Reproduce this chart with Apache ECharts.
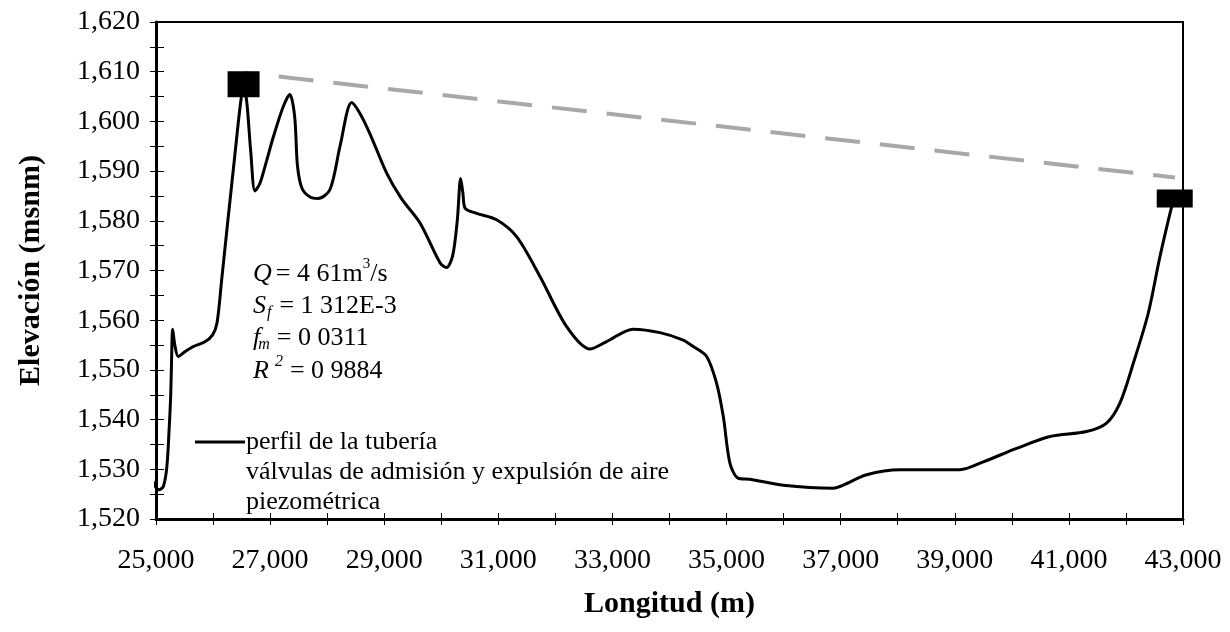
<!DOCTYPE html>
<html>
<head>
<meta charset="utf-8">
<script src="https://cdn.jsdelivr.net/npm/echarts@6/dist/echarts.min.js"></script>
<style>
  html, body { margin: 0; padding: 0; background: #fff; }
  #chart { width: 1230px; height: 632px; }
</style>
</head>
<body>
<div id="chart"></div>
<script>
// Pipeline profile: chainage (m) vs. elevation (m a.s.l.)
const profileX = [24910, 24990, 25060, 25130, 25190, 25230, 25258, 25275, 25292, 25330, 25390, 25500, 25650, 25850, 25990, 26070, 26150, 26250, 26380, 26480, 26535, 26590, 26660, 26735, 26820, 26910, 27060, 27231, 27345, 27430, 27480, 27560, 27700, 27840, 28050, 28225, 28430, 28580, 28750, 29043, 29300, 29630, 29980, 30091, 30200, 30280, 30340, 30380, 30420, 30620, 30970, 31320, 31730, 32197, 32606, 32898, 33364, 33833, 34241, 34417, 34651, 34826, 34943, 35060, 35206, 35410, 35994, 36870, 37045, 37455, 38039, 38915, 39090, 39499, 40083, 40668, 41310, 41661, 41894, 42128, 42391, 42596, 42800, 42855];
const profileY = [1528.7, 1526.5, 1525.9, 1526.6, 1530.5, 1538, 1545, 1553, 1558.2, 1555, 1552.7, 1553.6, 1554.7, 1555.6, 1557, 1559.5, 1568, 1579, 1593, 1603.5, 1607, 1604, 1594, 1586, 1587.5, 1590.9, 1597, 1603, 1605.4, 1601, 1591, 1586.5, 1584.8, 1584.5, 1586.3, 1595, 1603.8, 1601.5, 1597.5, 1589.6, 1584.5, 1579.5, 1571.5, 1570.6, 1573, 1580, 1588.5, 1585.5, 1582.5, 1581.5, 1580.2, 1576.8, 1568.8, 1558.7, 1554.2, 1555.7, 1558.2, 1557.5, 1556, 1554.7, 1552.7, 1547.3, 1540.6, 1531.2, 1528.2, 1528, 1526.8, 1526.2, 1526.8, 1528.9, 1529.9, 1529.9, 1529.9, 1531.5, 1534.2, 1536.6, 1537.6, 1539.3, 1543.3, 1551.3, 1561.4, 1572.8, 1582.8, 1585];

// Air release / admission valves
const valveX = [26535, 42855];
const valveY = [1607.5, 1584.5];

// Hydraulic grade line
const piezoX = [26540, 42860];
const piezoY = [1609.8, 1588.7];

const seriesNames = ['perfil de la tubería', 'válvulas de admisión y expulsión de aire', 'piezométrica'];

const zip = (xs, ys) => xs.map((x, i) => [x, ys[i]]);
const fmt = v => Number(v).toLocaleString('en-US');

const FONT = '"Liberation Serif", "Times New Roman", serif';

// Lay out a line of text fragments left to right, with optional vertical shifts
// for sub/superscripts; widths come from canvas text metrics.
const measureCtx = document.createElement('canvas').getContext('2d');
function textRow(x, yTop, parts) {
  const out = [];
  let cx = x;
  parts.forEach(p => {
    const font = (p.italic ? 'italic ' : '') + p.size + 'px ' + FONT;
    measureCtx.font = font;
    out.push({ type: 'text', left: cx + (p.dx || 0), top: yTop + (p.dy || 0), z: 10,
               style: { text: p.t, font: font, fill: '#000' } });
    cx += measureCtx.measureText(p.t).width + (p.dx || 0) + (p.after || 0);
  });
  return out;
}

const notes = [].concat(
  textRow(253, 261, [
    { t: 'Q', size: 26, italic: true, after: 4 },
    { t: '= 4 61m', size: 26 },
    { t: '3', size: 15, dy: -4 },
    { t: '/s', size: 26 }
  ]),
  textRow(253, 293, [
    { t: 'S', size: 26, italic: true, after: 1 },
    { t: 'f', size: 16, italic: true, dy: 12, after: 8 },
    { t: '= 1 312E-3', size: 26 }
  ]),
  textRow(253, 325, [
    { t: 'f', size: 26, italic: true, after: -2 },
    { t: 'm', size: 16, italic: true, dy: 12, after: 7 },
    { t: '= 0 0311', size: 26 }
  ]),
  textRow(253, 358, [
    { t: 'R', size: 26, italic: true, after: 6 },
    { t: '2', size: 16, italic: true, dy: -4, after: 7 },
    { t: '= 0 9884', size: 26 }
  ])
);

const chart = echarts.init(document.getElementById('chart'), null, { renderer: 'canvas' });

const xCommon = { type: 'value', min: 25000, max: 43000, interval: 2000 };
const yCommon = { type: 'value', min: 1520, max: 1620, interval: 10 };

chart.setOption({
  animation: false,
  backgroundColor: '#fff',
  textStyle: { fontFamily: FONT, color: '#000' },
  grid: {
    left: 156, right: 47, top: 22, bottom: 113,
    show: true, borderColor: '#000', borderWidth: 2, backgroundColor: 'transparent'
  },
  legend: {
    orient: 'vertical',
    left: 190, top: 424,
    itemGap: 4,
    itemWidth: 50, itemHeight: 14,
    selectedMode: false,
    textStyle: { fontFamily: FONT, fontSize: 26, color: '#000', padding: [0, 0, 0, -4] },
    data: [
      { name: seriesNames[0], icon: 'path://M0,5.5 L50,5.5 L50,8.5 L0,8.5 Z', itemStyle: { color: '#000', opacity: 1 } },
      { name: seriesNames[1], icon: 'none' },
      { name: seriesNames[2], icon: 'none' }
    ]
  },
  xAxis: [
    Object.assign({}, xCommon, {
      name: 'Longitud (m)',
      nameLocation: 'middle',
      nameGap: 70,
      nameTextStyle: { fontFamily: FONT, fontSize: 30, fontWeight: 'bold', color: '#000' },
      axisLine: { show: true, onZero: false, lineStyle: { color: '#000', width: 3 } },
      axisTick: { show: true, inside: false, length: 6, lineStyle: { color: '#000', width: 1 } },
      minorTick: { show: true, splitNumber: 2, length: 6, lineStyle: { color: '#000', width: 1 } },
      axisLabel: { fontFamily: FONT, fontSize: 28, color: '#000', margin: 28, formatter: fmt },
      splitLine: { show: false }
    }),
    Object.assign({}, xCommon, {
      position: 'bottom',
      axisLine: { show: false },
      axisTick: { show: true, inside: true, length: 6, lineStyle: { color: '#000', width: 1 } },
      minorTick: { show: true, splitNumber: 2, length: 6, lineStyle: { color: '#000', width: 1 } },
      axisLabel: { show: false },
      splitLine: { show: false }
    })
  ],
  yAxis: [
    Object.assign({}, yCommon, {
      name: 'Elevación (msnm)',
      nameLocation: 'middle',
      nameGap: 110,
      nameTextStyle: { fontFamily: FONT, fontSize: 30, fontWeight: 'bold', color: '#000' },
      axisLine: { show: true, onZero: false, lineStyle: { color: '#000', width: 3 } },
      axisTick: { show: true, inside: false, length: 6, lineStyle: { color: '#000', width: 1 } },
      minorTick: { show: true, splitNumber: 2, length: 6, lineStyle: { color: '#000', width: 1 } },
      axisLabel: { fontFamily: FONT, fontSize: 28, color: '#000', margin: 16, formatter: fmt },
      splitLine: { show: false }
    }),
    Object.assign({}, yCommon, {
      position: 'left',
      axisLine: { show: false },
      axisTick: { show: true, inside: true, length: 8, lineStyle: { color: '#000', width: 1 } },
      minorTick: { show: true, splitNumber: 2, length: 8, lineStyle: { color: '#000', width: 1 } },
      axisLabel: { show: false },
      splitLine: { show: false }
    })
  ],
  series: [
    {
      name: seriesNames[2],
      type: 'line',
      data: zip(piezoX, piezoY),
      showSymbol: false,
      symbol: 'none',
      lineStyle: { color: '#a8a8a8', width: 4, type: [35, 20], dashOffset: 20 },
      z: 2
    },
    {
      name: seriesNames[0],
      type: 'line',
      data: zip(profileX, profileY),
      smooth: 0.3,
      showSymbol: false,
      symbol: 'none',
      clip: false,
      lineStyle: { color: '#000', width: 3 },
      z: 3
    },
    {
      name: seriesNames[1],
      type: 'scatter',
      data: [
        { value: [valveX[0], valveY[0]], symbolSize: [32, 26] },
        { value: [valveX[1], valveY[1]], symbolSize: [36, 18] }
      ],
      symbol: 'rect',
      itemStyle: { color: '#000', opacity: 1 },
      emphasis: { disabled: true },
      z: 4
    }
  ],
  graphic: notes
});
</script>
</body>
</html>
